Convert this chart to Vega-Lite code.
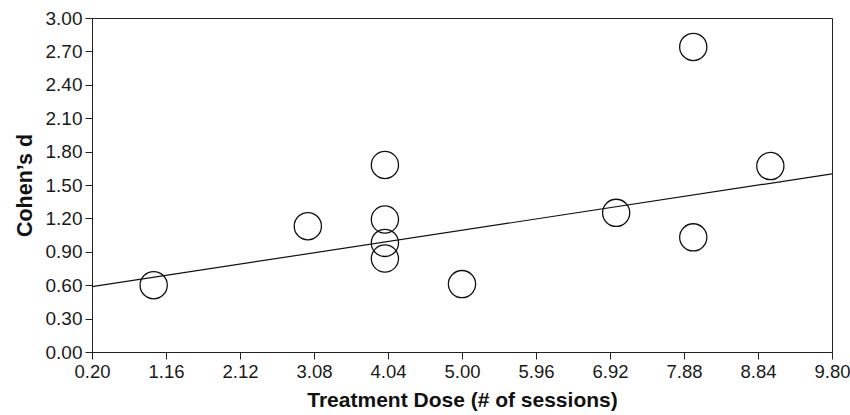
{
  "$schema": "https://vega.github.io/schema/vega-lite/v6.json",
  "width": 740,
  "height": 334,
  "autosize": "none",
  "padding": {"left": 92, "top": 18, "right": 18, "bottom": 63},
  "background": "white",
  "config": {
    "font": "Liberation Sans",
    "view": {"stroke": "#222", "strokeWidth": 1}
  },
  "datasets": {
    "studies": [
      {"dose": 1.0, "d": 0.60},
      {"dose": 3.0, "d": 1.13},
      {"dose": 4.0, "d": 1.68},
      {"dose": 4.0, "d": 1.19},
      {"dose": 4.0, "d": 0.98},
      {"dose": 4.0, "d": 0.84},
      {"dose": 5.0, "d": 0.61},
      {"dose": 7.0, "d": 1.25},
      {"dose": 8.0, "d": 2.74},
      {"dose": 8.0, "d": 1.03},
      {"dose": 9.0, "d": 1.67}
    ],
    "fit": [
      {"dose": 0.2, "d": 0.587},
      {"dose": 9.8, "d": 1.60}
    ]
  },
  "encoding": {
    "x": {
      "field": "dose",
      "type": "quantitative",
      "scale": {"domain": [0.2, 9.8], "nice": false, "zero": false},
      "axis": {
        "values": [0.2, 1.16, 2.12, 3.08, 4.04, 5.0, 5.96, 6.92, 7.88, 8.84, 9.8],
        "format": ".2f",
        "grid": false,
        "domainColor": "#222",
        "tickColor": "#222",
        "tickSize": 7,
        "labelPadding": 3,
        "labelFontSize": 18.5,
        "labelColor": "#1a1a1a",
        "labelFlush": false,
        "labelOverlap": false,
        "title": "Treatment Dose (# of sessions)",
        "titleFontSize": 21,
        "titleFontWeight": "bold",
        "titleColor": "#111",
        "titlePadding": 9
      }
    },
    "y": {
      "field": "d",
      "type": "quantitative",
      "scale": {"domain": [0, 3], "nice": false, "zero": true},
      "axis": {
        "values": [0, 0.3, 0.6, 0.9, 1.2, 1.5, 1.8, 2.1, 2.4, 2.7, 3.0],
        "format": ".2f",
        "grid": false,
        "domainColor": "#222",
        "tickColor": "#222",
        "tickSize": 7,
        "labelPadding": 3,
        "labelFontSize": 19,
        "labelColor": "#1a1a1a",
        "labelFlush": false,
        "labelOverlap": false,
        "title": "Cohen’s d",
        "titleFontSize": 21.5,
        "titleFontWeight": "bold",
        "titleColor": "#111",
        "titlePadding": 9
      }
    }
  },
  "layer": [
    {
      "data": {"name": "fit"},
      "mark": {"type": "line", "color": "#111", "strokeWidth": 1.2}
    },
    {
      "data": {"name": "studies"},
      "mark": {
        "type": "point",
        "shape": "circle",
        "filled": false,
        "stroke": "#111",
        "strokeWidth": 1.3,
        "opacity": 1,
        "size": 740
      }
    }
  ]
}
